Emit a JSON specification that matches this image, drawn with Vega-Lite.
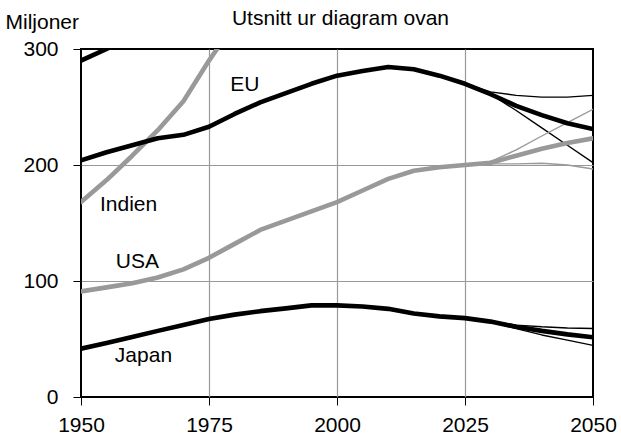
{
  "$schema": "https://vega.github.io/schema/vega-lite/v6.json",
  "width": 512,
  "height": 348,
  "autosize": {"type": "none"},
  "padding": {"left": 81, "top": 49, "right": 28, "bottom": 50},
  "background": "white",
  "config": {
    "font": "Liberation Sans",
    "view": {"stroke": "#000", "strokeWidth": 2}
  },
  "datasets": {
    "serier": [
      {"serie": "EU hög", "land": "EU", "scenario": "hög", "ar": 2025, "varde": 270},
      {"serie": "EU hög", "land": "EU", "scenario": "hög", "ar": 2030, "varde": 263},
      {"serie": "EU hög", "land": "EU", "scenario": "hög", "ar": 2035, "varde": 260},
      {"serie": "EU hög", "land": "EU", "scenario": "hög", "ar": 2040, "varde": 258.5},
      {"serie": "EU hög", "land": "EU", "scenario": "hög", "ar": 2045, "varde": 258.5},
      {"serie": "EU hög", "land": "EU", "scenario": "hög", "ar": 2050, "varde": 260},
      {"serie": "EU låg", "land": "EU", "scenario": "låg", "ar": 2025, "varde": 270},
      {"serie": "EU låg", "land": "EU", "scenario": "låg", "ar": 2030, "varde": 261},
      {"serie": "EU låg", "land": "EU", "scenario": "låg", "ar": 2035, "varde": 247},
      {"serie": "EU låg", "land": "EU", "scenario": "låg", "ar": 2040, "varde": 232},
      {"serie": "EU låg", "land": "EU", "scenario": "låg", "ar": 2045, "varde": 217},
      {"serie": "EU låg", "land": "EU", "scenario": "låg", "ar": 2050, "varde": 202},
      {"serie": "USA hög", "land": "USA", "scenario": "hög", "ar": 2025, "varde": 200},
      {"serie": "USA hög", "land": "USA", "scenario": "hög", "ar": 2030, "varde": 203},
      {"serie": "USA hög", "land": "USA", "scenario": "hög", "ar": 2035, "varde": 213},
      {"serie": "USA hög", "land": "USA", "scenario": "hög", "ar": 2040, "varde": 225},
      {"serie": "USA hög", "land": "USA", "scenario": "hög", "ar": 2045, "varde": 236.5},
      {"serie": "USA hög", "land": "USA", "scenario": "hög", "ar": 2050, "varde": 248},
      {"serie": "USA låg", "land": "USA", "scenario": "låg", "ar": 2025, "varde": 200},
      {"serie": "USA låg", "land": "USA", "scenario": "låg", "ar": 2030, "varde": 201},
      {"serie": "USA låg", "land": "USA", "scenario": "låg", "ar": 2035, "varde": 201},
      {"serie": "USA låg", "land": "USA", "scenario": "låg", "ar": 2040, "varde": 201.5},
      {"serie": "USA låg", "land": "USA", "scenario": "låg", "ar": 2045, "varde": 200},
      {"serie": "USA låg", "land": "USA", "scenario": "låg", "ar": 2050, "varde": 196.5},
      {"serie": "Japan hög", "land": "Japan", "scenario": "hög", "ar": 2025, "varde": 68},
      {"serie": "Japan hög", "land": "Japan", "scenario": "hög", "ar": 2030, "varde": 65.5},
      {"serie": "Japan hög", "land": "Japan", "scenario": "hög", "ar": 2035, "varde": 62},
      {"serie": "Japan hög", "land": "Japan", "scenario": "hög", "ar": 2040, "varde": 60.5},
      {"serie": "Japan hög", "land": "Japan", "scenario": "hög", "ar": 2045, "varde": 59.5},
      {"serie": "Japan hög", "land": "Japan", "scenario": "hög", "ar": 2050, "varde": 59},
      {"serie": "Japan låg", "land": "Japan", "scenario": "låg", "ar": 2025, "varde": 68},
      {"serie": "Japan låg", "land": "Japan", "scenario": "låg", "ar": 2030, "varde": 64.5},
      {"serie": "Japan låg", "land": "Japan", "scenario": "låg", "ar": 2035, "varde": 59},
      {"serie": "Japan låg", "land": "Japan", "scenario": "låg", "ar": 2040, "varde": 53.5},
      {"serie": "Japan låg", "land": "Japan", "scenario": "låg", "ar": 2045, "varde": 49},
      {"serie": "Japan låg", "land": "Japan", "scenario": "låg", "ar": 2050, "varde": 44.5},
      {"serie": "Kina", "land": "Kina", "scenario": "huvud", "ar": 1950, "varde": 290},
      {"serie": "Kina", "land": "Kina", "scenario": "huvud", "ar": 1955, "varde": 300},
      {"serie": "Kina", "land": "Kina", "scenario": "huvud", "ar": 1960, "varde": 311},
      {"serie": "Indien", "land": "Indien", "scenario": "huvud", "ar": 1950, "varde": 168},
      {"serie": "Indien", "land": "Indien", "scenario": "huvud", "ar": 1955, "varde": 187},
      {"serie": "Indien", "land": "Indien", "scenario": "huvud", "ar": 1960, "varde": 208},
      {"serie": "Indien", "land": "Indien", "scenario": "huvud", "ar": 1965, "varde": 230},
      {"serie": "Indien", "land": "Indien", "scenario": "huvud", "ar": 1970, "varde": 255},
      {"serie": "Indien", "land": "Indien", "scenario": "huvud", "ar": 1975, "varde": 290},
      {"serie": "Indien", "land": "Indien", "scenario": "huvud", "ar": 1980, "varde": 322},
      {"serie": "USA", "land": "USA", "scenario": "huvud", "ar": 1950, "varde": 91},
      {"serie": "USA", "land": "USA", "scenario": "huvud", "ar": 1955, "varde": 94.5},
      {"serie": "USA", "land": "USA", "scenario": "huvud", "ar": 1960, "varde": 98},
      {"serie": "USA", "land": "USA", "scenario": "huvud", "ar": 1965, "varde": 103},
      {"serie": "USA", "land": "USA", "scenario": "huvud", "ar": 1970, "varde": 110},
      {"serie": "USA", "land": "USA", "scenario": "huvud", "ar": 1975, "varde": 120},
      {"serie": "USA", "land": "USA", "scenario": "huvud", "ar": 1980, "varde": 132},
      {"serie": "USA", "land": "USA", "scenario": "huvud", "ar": 1985, "varde": 144},
      {"serie": "USA", "land": "USA", "scenario": "huvud", "ar": 1990, "varde": 152},
      {"serie": "USA", "land": "USA", "scenario": "huvud", "ar": 1995, "varde": 160},
      {"serie": "USA", "land": "USA", "scenario": "huvud", "ar": 2000, "varde": 168},
      {"serie": "USA", "land": "USA", "scenario": "huvud", "ar": 2005, "varde": 178},
      {"serie": "USA", "land": "USA", "scenario": "huvud", "ar": 2010, "varde": 188},
      {"serie": "USA", "land": "USA", "scenario": "huvud", "ar": 2015, "varde": 195},
      {"serie": "USA", "land": "USA", "scenario": "huvud", "ar": 2020, "varde": 198},
      {"serie": "USA", "land": "USA", "scenario": "huvud", "ar": 2025, "varde": 200},
      {"serie": "USA", "land": "USA", "scenario": "huvud", "ar": 2030, "varde": 202},
      {"serie": "USA", "land": "USA", "scenario": "huvud", "ar": 2035, "varde": 208},
      {"serie": "USA", "land": "USA", "scenario": "huvud", "ar": 2040, "varde": 214},
      {"serie": "USA", "land": "USA", "scenario": "huvud", "ar": 2045, "varde": 219},
      {"serie": "USA", "land": "USA", "scenario": "huvud", "ar": 2050, "varde": 223},
      {"serie": "EU", "land": "EU", "scenario": "huvud", "ar": 1950, "varde": 204},
      {"serie": "EU", "land": "EU", "scenario": "huvud", "ar": 1955, "varde": 211},
      {"serie": "EU", "land": "EU", "scenario": "huvud", "ar": 1960, "varde": 217},
      {"serie": "EU", "land": "EU", "scenario": "huvud", "ar": 1965, "varde": 223},
      {"serie": "EU", "land": "EU", "scenario": "huvud", "ar": 1970, "varde": 226},
      {"serie": "EU", "land": "EU", "scenario": "huvud", "ar": 1975, "varde": 233},
      {"serie": "EU", "land": "EU", "scenario": "huvud", "ar": 1980, "varde": 244},
      {"serie": "EU", "land": "EU", "scenario": "huvud", "ar": 1985, "varde": 254},
      {"serie": "EU", "land": "EU", "scenario": "huvud", "ar": 1990, "varde": 262},
      {"serie": "EU", "land": "EU", "scenario": "huvud", "ar": 1995, "varde": 270},
      {"serie": "EU", "land": "EU", "scenario": "huvud", "ar": 2000, "varde": 277},
      {"serie": "EU", "land": "EU", "scenario": "huvud", "ar": 2005, "varde": 281},
      {"serie": "EU", "land": "EU", "scenario": "huvud", "ar": 2010, "varde": 284.5},
      {"serie": "EU", "land": "EU", "scenario": "huvud", "ar": 2015, "varde": 282.5},
      {"serie": "EU", "land": "EU", "scenario": "huvud", "ar": 2020, "varde": 277},
      {"serie": "EU", "land": "EU", "scenario": "huvud", "ar": 2025, "varde": 270},
      {"serie": "EU", "land": "EU", "scenario": "huvud", "ar": 2030, "varde": 261},
      {"serie": "EU", "land": "EU", "scenario": "huvud", "ar": 2035, "varde": 251},
      {"serie": "EU", "land": "EU", "scenario": "huvud", "ar": 2040, "varde": 243},
      {"serie": "EU", "land": "EU", "scenario": "huvud", "ar": 2045, "varde": 236},
      {"serie": "EU", "land": "EU", "scenario": "huvud", "ar": 2050, "varde": 231},
      {"serie": "Japan", "land": "Japan", "scenario": "huvud", "ar": 1950, "varde": 41.7},
      {"serie": "Japan", "land": "Japan", "scenario": "huvud", "ar": 1955, "varde": 46.5},
      {"serie": "Japan", "land": "Japan", "scenario": "huvud", "ar": 1960, "varde": 51.8},
      {"serie": "Japan", "land": "Japan", "scenario": "huvud", "ar": 1965, "varde": 57},
      {"serie": "Japan", "land": "Japan", "scenario": "huvud", "ar": 1970, "varde": 62},
      {"serie": "Japan", "land": "Japan", "scenario": "huvud", "ar": 1975, "varde": 67.2},
      {"serie": "Japan", "land": "Japan", "scenario": "huvud", "ar": 1980, "varde": 71},
      {"serie": "Japan", "land": "Japan", "scenario": "huvud", "ar": 1985, "varde": 74},
      {"serie": "Japan", "land": "Japan", "scenario": "huvud", "ar": 1990, "varde": 76.4},
      {"serie": "Japan", "land": "Japan", "scenario": "huvud", "ar": 1995, "varde": 79},
      {"serie": "Japan", "land": "Japan", "scenario": "huvud", "ar": 2000, "varde": 79},
      {"serie": "Japan", "land": "Japan", "scenario": "huvud", "ar": 2005, "varde": 78},
      {"serie": "Japan", "land": "Japan", "scenario": "huvud", "ar": 2010, "varde": 76},
      {"serie": "Japan", "land": "Japan", "scenario": "huvud", "ar": 2015, "varde": 72},
      {"serie": "Japan", "land": "Japan", "scenario": "huvud", "ar": 2020, "varde": 69.5},
      {"serie": "Japan", "land": "Japan", "scenario": "huvud", "ar": 2025, "varde": 68},
      {"serie": "Japan", "land": "Japan", "scenario": "huvud", "ar": 2030, "varde": 65},
      {"serie": "Japan", "land": "Japan", "scenario": "huvud", "ar": 2035, "varde": 60.5},
      {"serie": "Japan", "land": "Japan", "scenario": "huvud", "ar": 2040, "varde": 57},
      {"serie": "Japan", "land": "Japan", "scenario": "huvud", "ar": 2045, "varde": 54},
      {"serie": "Japan", "land": "Japan", "scenario": "huvud", "ar": 2050, "varde": 51.5}
    ],
    "etiketter": [
      {"etikett": "EU", "ar": 1982.0, "varde": 268.8},
      {"etikett": "Indien", "ar": 1959.3, "varde": 165.8},
      {"etikett": "USA", "ar": 1961.0, "varde": 116.6},
      {"etikett": "Japan", "ar": 1962.2, "varde": 35.2}
    ]
  },
  "layer": [
    {
      "data": {"name": "serier"},
      "mark": {"type": "line", "clip": true, "strokeJoin": "round", "strokeCap": "round"},
      "encoding": {
        "x": {
          "field": "ar", "type": "quantitative",
          "scale": {"domain": [1950, 2050], "nice": false, "zero": false},
          "axis": {
            "orient": "bottom", "title": null, "values": [1950, 1975, 2000, 2025, 2050], "format": "d",
            "labelFontSize": 21, "labelColor": "#000", "labelPadding": 9, "labelFlush": false, "labelOverlap": false,
            "tickSize": 8, "tickColor": "#000", "tickWidth": 1, "domain": false,
            "grid": true, "gridColor": {"condition": {"test": "datum.value == 1950 || datum.value == 2050", "value": "transparent"}, "value": "#999999"}, "gridWidth": 1.2
          }
        },
        "y": {
          "field": "varde", "type": "quantitative",
          "scale": {"domain": [0, 300], "nice": false, "zero": true},
          "axis": {
            "orient": "left", "title": "Miljoner", "values": [0, 100, 200, 300],
            "titleAngle": 0, "titleX": -76, "titleY": -21, "titleAlign": "left", "titleBaseline": "alphabetic",
            "titleFontSize": 21, "titleFontWeight": "normal", "titleColor": "#000",
            "labelFontSize": 21, "labelColor": "#000", "labelPadding": 15, "labelFlush": false, "labelOverlap": false,
            "tickSize": 8, "tickColor": "#000", "tickWidth": 1, "domain": false,
            "grid": true, "gridColor": {"condition": {"test": "datum.value == 0 || datum.value == 300", "value": "transparent"}, "value": "#999999"}, "gridWidth": 1.2
          }
        },
        "color": {
          "field": "land", "type": "nominal",
          "scale": {"domain": ["EU", "Japan", "Kina", "USA", "Indien"], "range": ["#000000", "#000000", "#000000", "#999999", "#999999"]},
          "legend": null
        },
        "strokeWidth": {
          "field": "scenario", "type": "nominal",
          "scale": {"type": "ordinal", "domain": ["huvud", "hög", "låg"], "range": [4.6, 1.4, 1.4]},
          "legend": null
        },
        "detail": {"field": "serie", "type": "nominal"}
      }
    },
    {
      "data": {"name": "etiketter"},
      "mark": {"type": "text", "fontSize": 21, "align": "center", "baseline": "middle", "color": "#000"},
      "encoding": {
        "x": {
          "field": "ar", "type": "quantitative",
          "scale": {"domain": [1950, 2050], "nice": false, "zero": false},
          "axis": {
            "orient": "top", "title": "Utsnitt ur diagram ovan", "labels": false, "ticks": false, "domain": false, "grid": false,
            "titleX": 259, "titleY": -25, "titleAlign": "center", "titleBaseline": "alphabetic", "titleAngle": 0,
            "titleFontSize": 21, "titleFontWeight": "normal", "titleColor": "#000"
          }
        },
        "y": {
          "field": "varde", "type": "quantitative",
          "scale": {"domain": [0, 300], "nice": false, "zero": true},
          "axis": {
            "orient": "left", "title": "Miljoner", "values": [0, 100, 200, 300],
            "titleAngle": 0, "titleX": -76, "titleY": -21, "titleAlign": "left", "titleBaseline": "alphabetic",
            "titleFontSize": 21, "titleFontWeight": "normal", "titleColor": "#000",
            "labelFontSize": 21, "labelColor": "#000", "labelPadding": 15, "labelFlush": false, "labelOverlap": false,
            "tickSize": 8, "tickColor": "#000", "tickWidth": 1, "domain": false,
            "grid": true, "gridColor": {"condition": {"test": "datum.value == 0 || datum.value == 300", "value": "transparent"}, "value": "#999999"}, "gridWidth": 1.2
          }
        },
        "text": {"field": "etikett", "type": "nominal"}
      }
    }
  ],
  "resolve": {"axis": {"x": "independent"}}
}
